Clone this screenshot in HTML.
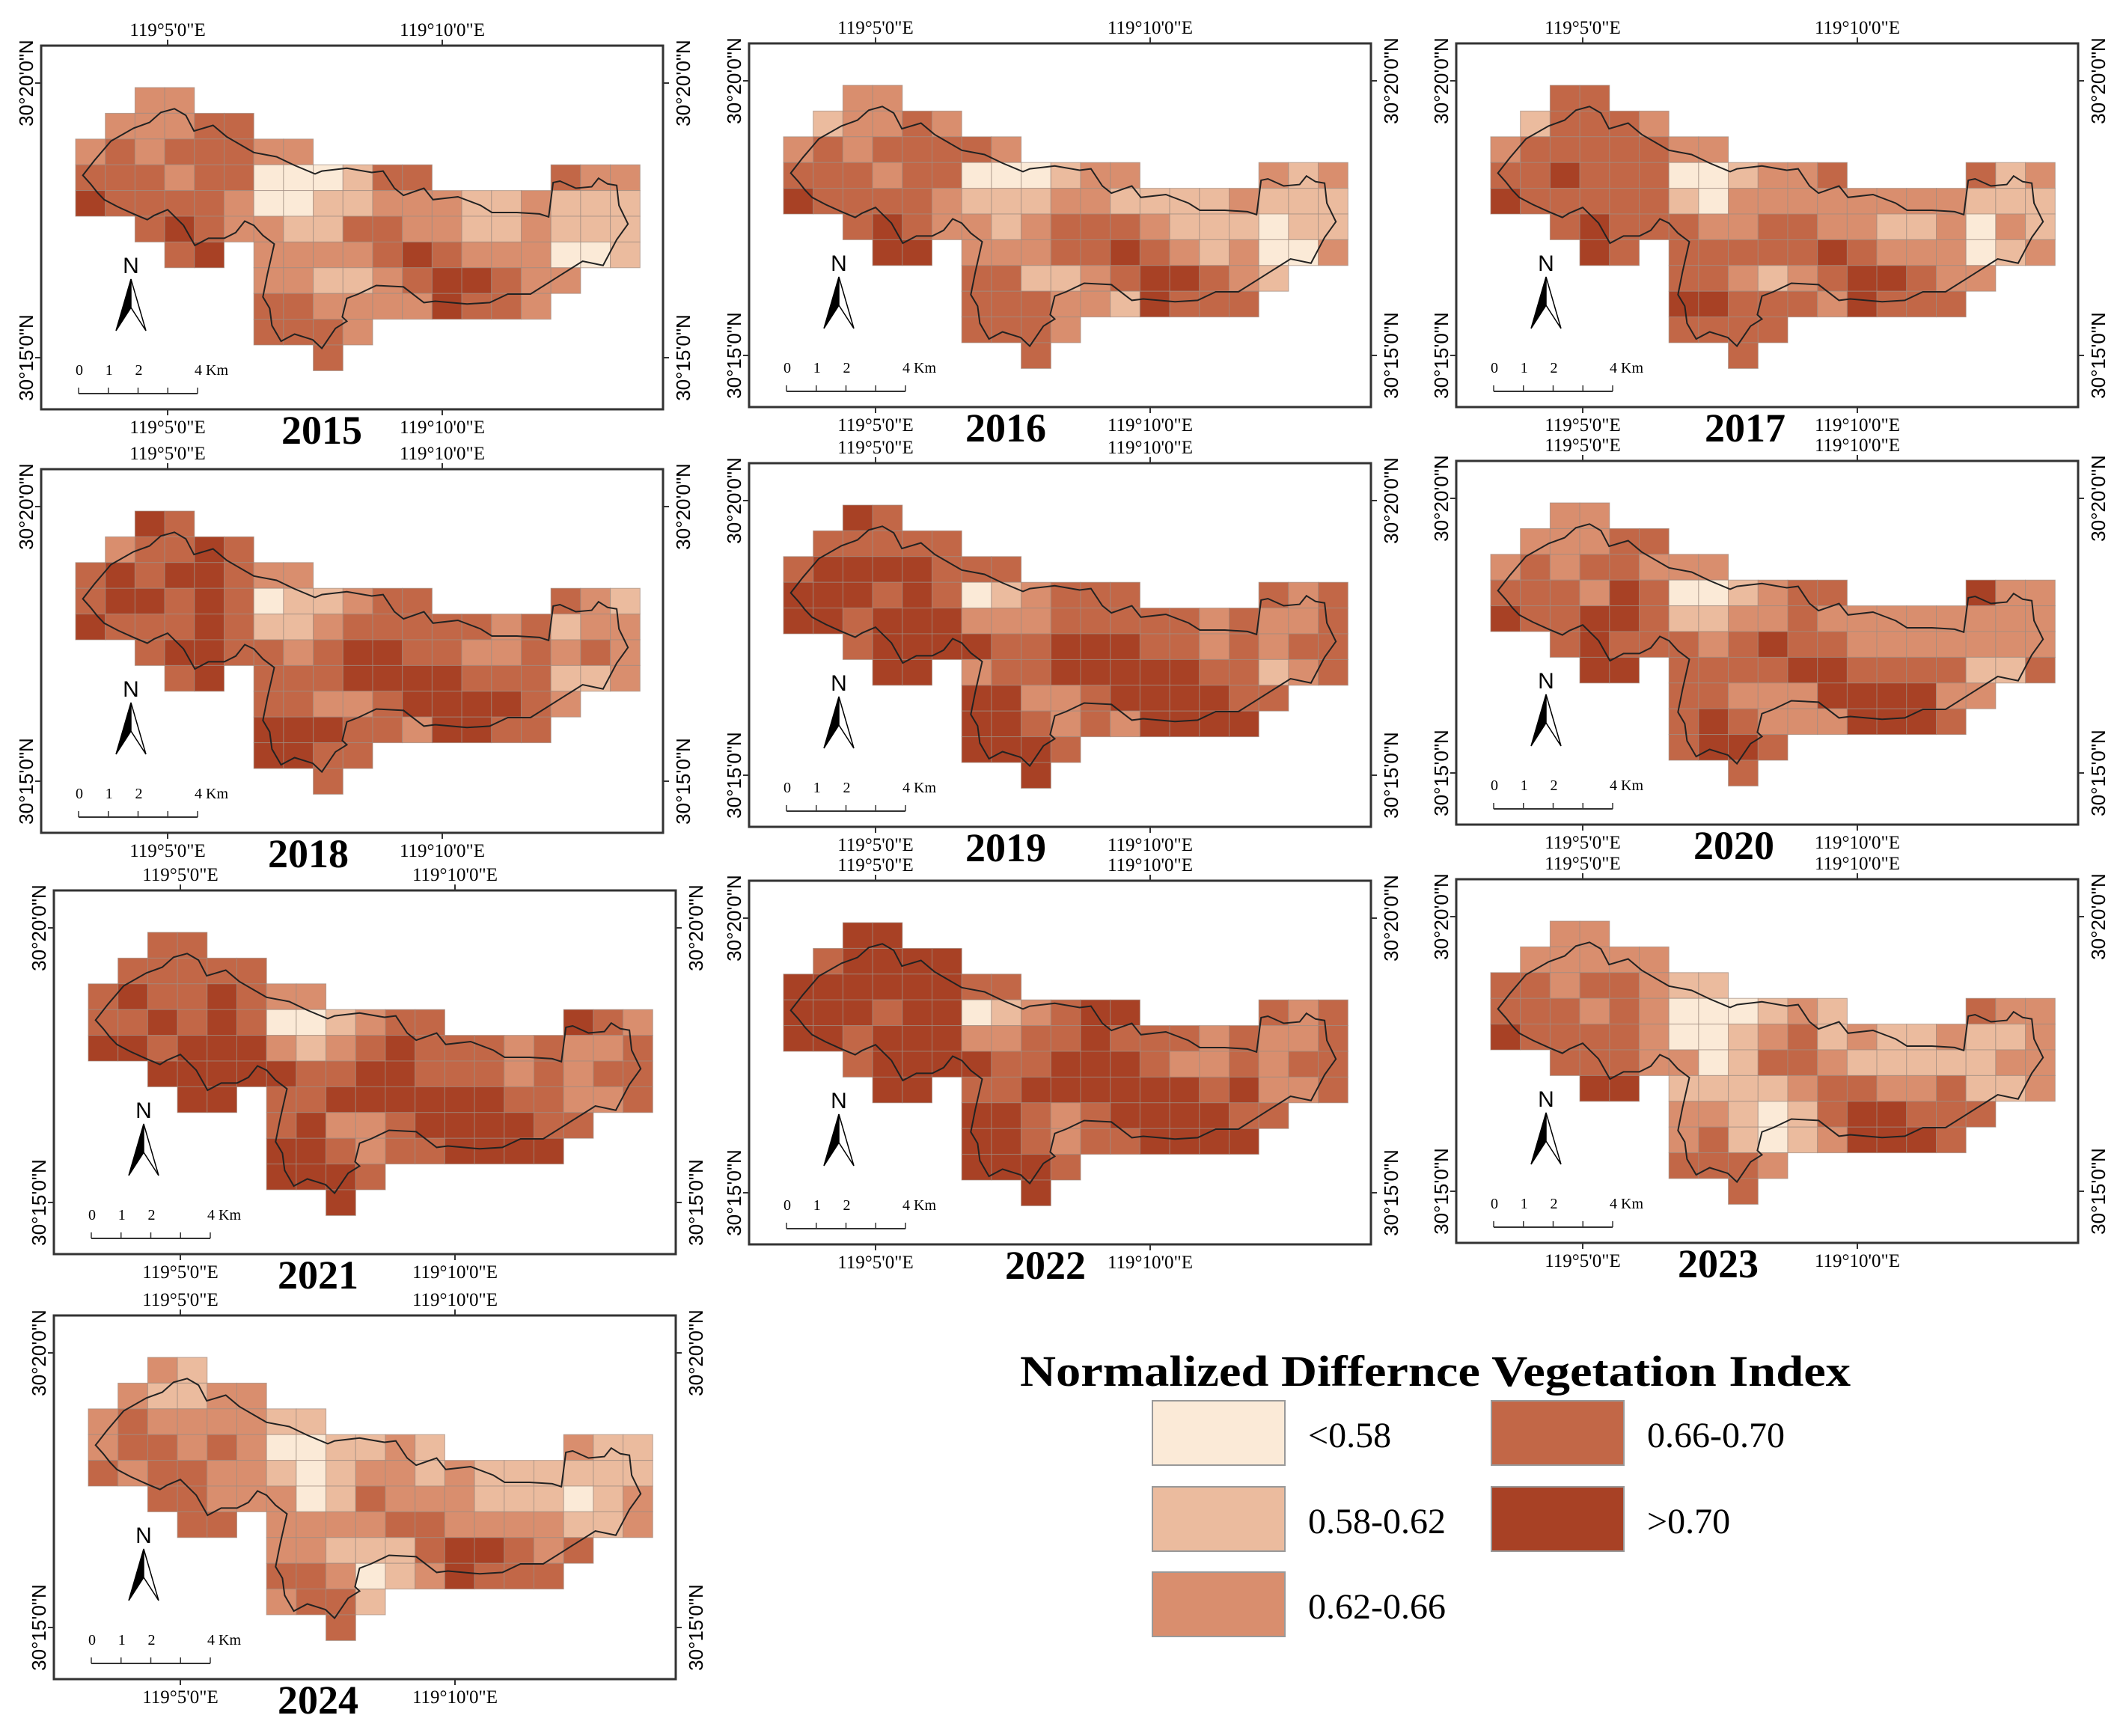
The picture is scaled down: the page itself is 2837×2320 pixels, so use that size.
<!DOCTYPE html>
<html><head><meta charset="utf-8"><style>
html,body{margin:0;padding:0;background:#fff;}
svg{display:block;}
</style></head>
<body>
<svg id="fig" xmlns="http://www.w3.org/2000/svg" width="2837" height="2320" viewBox="0 0 2837 2320">
<rect width="2837" height="2320" fill="#fff"/>
<g id="panels"></g>
<g id="legend">
  <text x="1918" y="1852" text-anchor="middle" font-family="Liberation Serif, serif" font-weight="bold" font-size="58" textLength="1110" lengthAdjust="spacingAndGlyphs">Normalized Differnce Vegetation Index</text>
</g>
</svg>
<script>
const years = [2015,2016,2017,2018,2019,2020,2021,2022,2023,2024];
const classLabels = ["<0.58","0.58-0.62","0.62-0.66","0.66-0.70",">0.70"];
const classColors = ["#FBEAD7","#EBBB9E","#D98E6E","#C26747","#A84125"];
// NDVI class per grid cell (0..4), '.' = no data
const grid2015 = ["..22...............",".22233.............","23233322...........","333233000133....322","4333320011222112111","..34322113322112111","...34.2222343222001","......22112344322..","......3322224332...","......3332.........","........3.........."];
const grid2016 = ["..22...............",".12232.............","23233332...........","333233000122....212","4333321112211112111","..34322123332111011","...44.2223343212002","......33112344321..","......3332214333...","......3332.........","........3.........."];
const grid2017 = ["..33...............",".13332.............","23333322...........","334333001223....312","4333331022222222111","..34333223322112021","...43.3333343222012","......33212344322..","......4433324333...","......3333.........","........3.........."];
const grid2018 = ["..43...............",".23343.............","34344322...........","344343011233....321","4333431123333323122","..34433234433223232","...34.3334444333112","......33223444432..","......4443324433...","......4433.........","........3.........."];
const grid2019 = ["..43...............",".33333.............","34444333...........","444343012333....323","4434442223333323223","..34444334443323233","...44.2334444433123","......44223444433..","......4432324444...","......4443.........","........4.........."];
const grid2020 = ["..22...............",".22233.............","23233222...........","333243001233....422","4334431122322222222","..34333234332222222","...44.3333443333113","......33222444422..","......3432224443...","......3443.........","........3.........."];
const grid2021 = ["..33...............",".33333.............","34334322...........","334343001233....432","4434442123433323223","..44444334433323233","...44.3344444433223","......34223444433..","......4432334444...","......4443.........","........4.........."];
const grid2022 = ["..44...............",".34444.............","44444433...........","444344012344....323","4434442233433323223","..34444334443223233","...44.3344444434223","......44323444433..","......4432334444...","......4443.........","........4.........."];
const grid2023 = ["..22...............",".22222.............","33233211...........","333232000121....322","4333320012312112112","..33322013321111122","...44.1111233223112","......22101344333..","......2310124443...","......3332.........","........3.........."];
const grid2024 = ["..21...............",".21122.............","23222211...........","233232001121....211","3233221012212111111","..33222013222111012","...33.2222332222112","......22111344323..","......3320124333...","......2331.........","........3.........."];
const grids = [grid2015,grid2016,grid2017,grid2018,grid2019,grid2020,grid2021,grid2022,grid2023,grid2024];

// layout (not data)
const frames = [[55,61],[1001,58],[1946,58],[55,627],[1001,619],[1946,616],[72,1190],[1001,1177],[1946,1175],[72,1758]];
const yearDx = [375,343,386,357,343,371,353,396,350,353];
const FW=831, FH=486, CW=39.7, CH=34.4, GX=46, GY=56;
const outlineRaw = [[183,615],[210,560],[245,495],[295,450],[330,430],[355,395],[385,382],[410,405],[428,460],[470,440],[500,480],[560,535],[610,550],[650,580],[695,610],[710,600],[765,590],[820,605],[845,600],[870,660],[890,685],[935,660],[955,700],[1010,690],[1060,720],[1085,745],[1140,745],[1190,750],[1210,760],[1220,640],[1235,635],[1270,660],[1305,655],[1320,625],[1340,645],[1360,650],[1365,720],[1385,785],[1360,840],[1330,930],[1285,915],[1260,940],[1240,960],[1215,985],[1170,1030],[1120,1030],[1080,1060],[1030,1065],[960,1055],[935,1060],[890,1005],[830,1000],[790,1030],[765,1045],[755,1110],[765,1125],[740,1150],[710,1220],[690,1190],[650,1170],[620,1195],[600,1140],[595,1080],[580,1040],[590,960],[605,855],[580,825],[560,790],[540,775],[520,815],[495,835],[460,835],[430,860],[405,790],[370,735],[340,755],[325,770],[295,750],[260,725],[230,700],[215,675],[200,645]];

const NS="http://www.w3.org/2000/svg";
function mk(tag, attrs, parent){const e=document.createElementNS(NS,tag);for(const k in attrs)e.setAttribute(k,attrs[k]);if(parent)parent.appendChild(e);return e;}
const root=document.getElementById('panels');

years.forEach((yr,i)=>{
  const [fx,fy]=frames[i];
  const g=mk('g',{},root);
  
  
  const gx=fx+GX, gy=fy+GY;
  const colX=c=>gx+c*CW, rowY=r=>gy+r*CH;
  const grid=grids[i];
  grid.forEach((row,r)=>{
    for(let c=0;c<row.length;c++){
      const ch=row[c]; if(ch==='.')continue;
      const cell=mk('rect',{x:colX(c).toFixed(1),y:rowY(r).toFixed(1),width:CW,height:CH,fill:classColors[+ch],stroke:'#a08c80','stroke-width':1,'stroke-opacity':0.7},g);
      
      
    }
  });
  const pts=outlineRaw.map(p=>{const u=(p[0]-167)/65.5,v=(p[1]-308)/90;return colX(u).toFixed(1)+','+rowY(v).toFixed(1);}).join(' ');
  const ol=mk('polygon',{points:pts,fill:'none',stroke:'#222','stroke-width':2},g);
  
  
  const fr=mk('rect',{x:fx,y:fy,width:FW,height:FH,fill:'none',stroke:'#333','stroke-width':3},g);
  
  
  const lonT=[[169,"119°5'0\"E"],[536,"119°10'0\"E"]];
  lonT.forEach(([dx,lab])=>{
    mk('line',{x1:fx+dx,y1:fy,x2:fx+dx,y2:fy-8,stroke:'#333','stroke-width':2},g);
    mk('line',{x1:fx+dx,y1:fy+FH,x2:fx+dx,y2:fy+FH+8,stroke:'#333','stroke-width':2},g);
    const t1=mk('text',{x:fx+dx,y:fy-13,'text-anchor':'middle','font-family':'Liberation Serif, serif','font-size':25},g);t1.textContent=lab;
    
    
    const t2=mk('text',{x:fx+dx,y:fy+FH+32,'text-anchor':'middle','font-family':'Liberation Serif, serif','font-size':25},g);t2.textContent=lab;
    
    
  });
  const latT=[[50,"30°20'0\"N"],[417,"30°15'0\"N"]];
  latT.forEach(([dy,lab])=>{
    mk('line',{x1:fx,y1:fy+dy,x2:fx-8,y2:fy+dy,stroke:'#333','stroke-width':2},g);
    mk('line',{x1:fx+FW,y1:fy+dy,x2:fx+FW+8,y2:fy+dy,stroke:'#333','stroke-width':2},g);
    const lx=fx-11, rx=fx+FW+36, cy=fy+dy;
    const t1=mk('text',{x:lx,y:cy,'text-anchor':'middle','font-family':'Liberation Sans, sans-serif','font-size':26,transform:`rotate(-90 ${lx} ${cy})`},g);t1.textContent=lab;
    
    
    const t2=mk('text',{x:rx,y:cy,'text-anchor':'middle','font-family':'Liberation Sans, sans-serif','font-size':26,transform:`rotate(-90 ${rx} ${cy})`},g);t2.textContent=lab;
    
    
  });
  const ax=fx+120, ay=fy+312;
  const na=mk('g',{},g);
  
  
  const nt=mk('text',{x:ax,y:ay-8,'text-anchor':'middle','font-family':'Liberation Sans, sans-serif','font-size':30},na);nt.textContent='N';
  mk('polygon',{points:`${ax},${ay} ${ax-20},${ay+69} ${ax},${ay+38}`,fill:'#000',stroke:'#000','stroke-width':1.5},na);
  mk('polygon',{points:`${ax},${ay} ${ax+20},${ay+69} ${ax},${ay+38}`,fill:'#fff',stroke:'#000','stroke-width':1.5},na);
  const sb=mk('g',{},g);
  
  
  const sx=fx+50, sy=fy+465, sw=159;
  mk('line',{x1:sx,y1:sy,x2:sx+sw,y2:sy,stroke:'#333','stroke-width':2},sb);
  [0,1,2,3,4].forEach(k=>mk('line',{x1:sx+k*sw/4,y1:sy,x2:sx+k*sw/4,y2:sy-8,stroke:'#333','stroke-width':1.5},sb));
  [['0',0],['1',1],['2',2],['4 Km',4]].forEach(([s,k])=>{const t=mk('text',{x:sx+k*sw/4-4,y:sy-25,'font-family':'Liberation Serif, serif','font-size':20},sb);t.textContent=s;});
  const yl=mk('text',{x:fx+yearDx[i],y:fy+FH+46,'text-anchor':'middle','font-family':'Liberation Serif, serif','font-weight':'bold','font-size':54},g);
  yl.textContent=String(yr);
  
  
});

const lg=document.getElementById('legend');
const legPos=[[1540,1872],[1540,1987],[1540,2101],[1993,1872],[1993,1987]];
classLabels.forEach((lab,k)=>{
  const [x,y]=legPos[k];
  const e=mk('g',{},lg);
  
  
  mk('rect',{x:x,y:y,width:177,height:86,fill:classColors[k],stroke:'#999','stroke-width':2},e);
  const t=mk('text',{x:x+208,y:y+62,'font-family':'Liberation Serif, serif','font-size':48},e);
  t.textContent=lab;
});
</script>
</body></html>
